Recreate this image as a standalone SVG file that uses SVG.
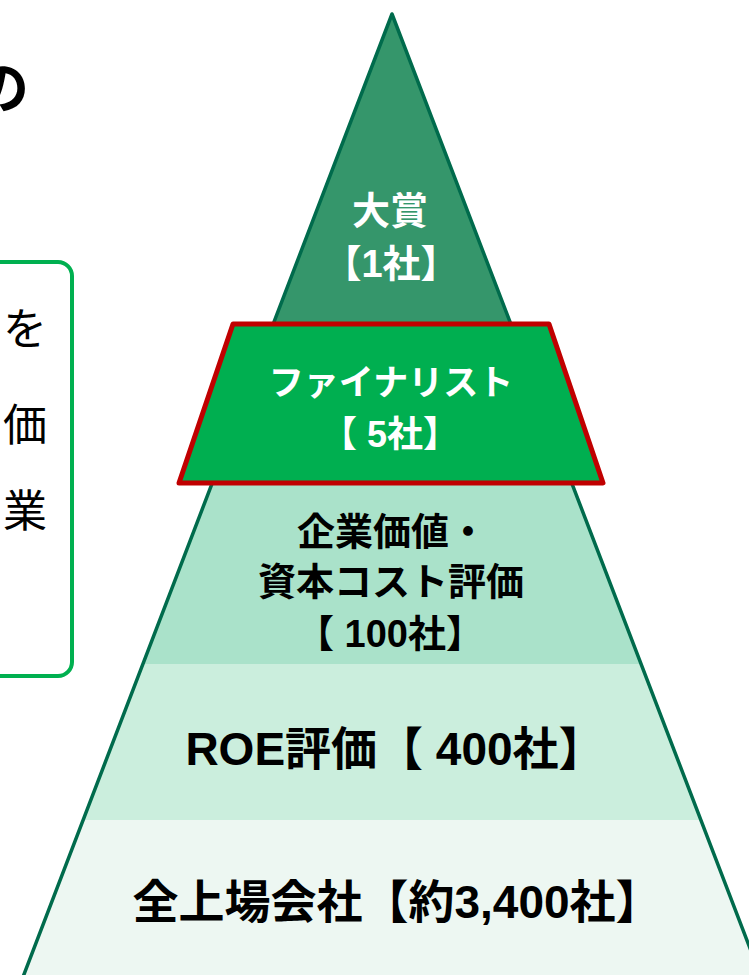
<svg xmlns="http://www.w3.org/2000/svg" width="749" height="975" viewBox="0 0 749 975">
  <style>
    .t { font-family: "Liberation Sans", "Noto Sans CJK JP", sans-serif; text-anchor: middle; }
    .w { fill: #ffffff; font-weight: bold; }
    .b { fill: #000000; font-weight: bold; }
    .side { font-family: "Liberation Sans", "Noto Sans CJK JP", sans-serif; fill: #000000; text-anchor: end; }
    .outline { fill: none; stroke: #006B4C; stroke-width: 3.5; stroke-linejoin: round; }
  </style>
  <rect x="0" y="0" width="749" height="975" fill="#ffffff"/>

  <g id="title-fragment">
    <text class="side" x="29" y="108" font-size="56" font-weight="bold">の</text>
  </g>

  <g id="left-panel">
    <rect x="-30" y="262" width="102" height="414" rx="14" ry="14" fill="#ffffff" stroke="#00B050" stroke-width="4"/>
    <text class="side" x="47" y="345" font-size="44">を</text>
    <text class="side" x="47" y="441" font-size="44">価</text>
    <text class="side" x="47" y="527" font-size="44">業</text>
  </g>

  <g id="pyramid">
    <g id="tier-grand-prize">
      <polygon points="392,14 572.4,485 211.6,485" fill="#35966B"/>
      <text class="t w" x="390" y="224" font-size="38">大賞</text>
      <text class="t w" x="391" y="277" font-size="38">【1社】</text>
    </g>
    <g id="tier-corporate-value">
      <polygon points="211.6,485 572.4,485 640.95,664 143.05,664" fill="#AAE2CA"/>
      <text class="t b" x="392" y="545" font-size="38">企業価値・</text>
      <text class="t b" x="391" y="595" font-size="38">資本コスト評価</text>
      <text class="t b" x="390" y="647" font-size="38">【 100社】</text>
    </g>
    <g id="tier-roe">
      <polygon points="143.05,664 640.95,664 700.7,820 83.3,820" fill="#CBEEDD"/>
      <text class="t b" x="395" y="765" font-size="46">ROE評価【 400社】</text>
    </g>
    <g id="tier-all-listed">
      <polygon points="83.3,820 700.7,820 766,990 18,990" fill="#EDF7F2"/>
      <text class="t b" x="397" y="918" font-size="46">全上場会社【約3,400社】</text>
    </g>
    <polyline class="outline" points="18,990 392,14 766,990"/>
    <g id="tier-finalist">
      <polygon points="233,324 549,324 603,483 179,483" fill="#00AF50" stroke="#C00000" stroke-width="5" stroke-linejoin="round"/>
      <text class="t w" x="391" y="395" font-size="35">ファイナリスト</text>
      <text class="t w" x="390" y="447" font-size="36">【 5社】</text>
    </g>
  </g>
</svg>
